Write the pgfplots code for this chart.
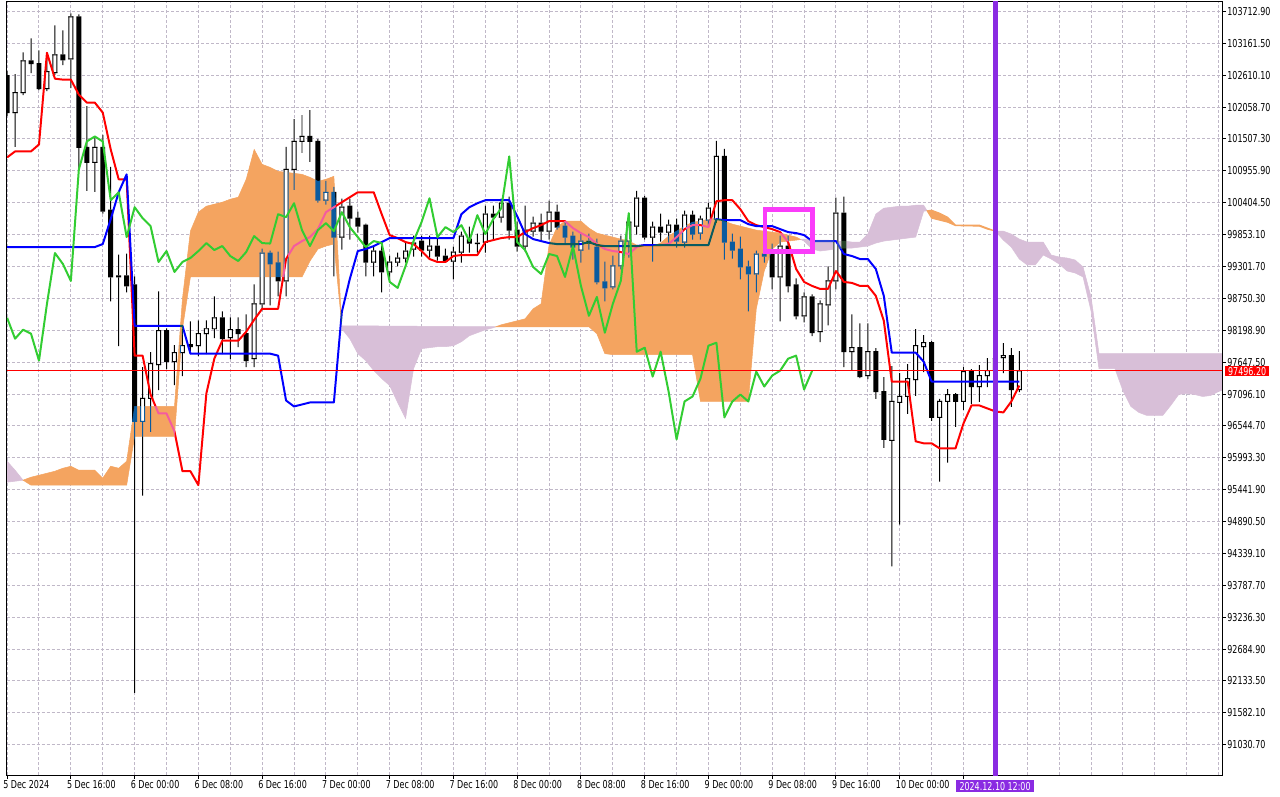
\documentclass[border=0pt]{standalone}
\usepackage{fontspec}
\setmainfont{DejaVu Sans}[FakeStretch=0.73]
\usepackage{pgfplots}
\usepackage{pgfplotstable}
\pgfplotsset{compat=1.18}
\definecolor{sandy}{RGB}{244,164,96}
\definecolor{thist}{RGB}{216,191,216}
\definecolor{invred}{RGB}{0,255,255}
\definecolor{invblue}{RGB}{255,255,0}
\definecolor{chik}{RGB}{50,205,50}
\definecolor{gridc}{RGB}{192,184,200}
\definecolor{vline}{RGB}{138,43,226}
\definecolor{boxc}{RGB}{250,60,250}
\newcommand{\tf}{\fontsize{11}{13}\selectfont}

\pgfplotstableread{
k o h l c
0 102601.5 102670.4 101912.3 101964.0
1 101964.0 102618.7 101378.2 102308.6
2 102308.6 102997.8 102274.1 102860.0
3 102860.0 103239.0 102653.2 102808.3
4 102808.3 103032.3 102360.3 102377.5
5 102377.5 102997.8 102343.1 102670.4
6 102653.2 103463.0 102618.7 102963.3
7 102963.3 103376.9 102791.0 102877.2
8 102894.4 103669.8 102394.8 103618.1
9 103618.1 103652.5 100981.9 101361.0
10 101361.0 102067.4 100620.1 101102.5
11 101102.5 101516.0 100602.8 101361.0
12 101361.0 101567.7 100223.8 100258.2
13 100275.5 101016.4 98707.5 99121.1
14 99138.3 99500.1 97932.2 99121.1
15 99138.3 99517.3 98862.6 98966.0
16 98983.2 99121.1 91936.1 96622.7
17 96622.7 97553.1 95347.7 97019.0
18 97019.0 97811.6 96450.4 97622.0
19 97604.8 98862.6 97174.1 98190.6
20 98190.6 98225.1 97535.9 97656.5
21 97656.5 97932.2 97260.2 97811.6
22 97811.6 98207.9 97415.3 97932.2
23 97949.4 98345.7 97794.3 97915.0
24 97932.2 98362.9 97759.9 98138.9
25 98138.9 98362.9 97794.3 98225.1
26 98225.1 98776.5 98070.0 98414.6
27 98414.6 98518.0 97794.3 98052.8
28 98070.0 98414.6 97708.2 98207.9
29 98207.9 98414.6 97915.0 98138.9
30 98138.9 98466.3 97570.4 97673.7
31 97708.2 98983.2 97570.4 98655.8
32 98655.8 99603.5 98552.5 99534.6
33 99534.6 99569.0 98638.6 99345.0
34 99362.3 99551.8 98793.7 99052.1
35 99052.1 101361.0 98793.7 100981.9
36 100981.9 101843.4 100637.3 101464.3
37 101464.3 101912.3 101274.8 101550.5
38 101550.5 101998.5 101119.7 101464.3
39 101464.3 101498.8 100413.3 100447.8
40 100447.8 100775.1 100378.8 100585.6
41 100585.6 100671.8 99138.3 99810.3
42 99810.3 100465.0 99603.5 100327.2
43 100344.4 100465.0 99775.8 100137.6
44 100137.6 100241.0 99896.4 99999.8
45 100017.0 100034.2 99138.3 99379.5
46 99379.5 99638.0 99138.3 99569.0
47 99569.0 99724.1 98862.6 99207.2
48 99207.2 99482.9 99052.1 99379.5
49 99379.5 99534.6 99310.6 99448.4
50 99448.4 99724.1 99379.5 99569.0
51 99603.5 99827.5 99482.9 99706.9
52 99741.3 99827.5 99482.9 99586.3
53 99586.3 99827.5 99465.7 99655.2
54 99655.2 99827.5 99414.0 99482.9
55 99482.9 99603.5 99379.5 99396.7
56 99396.7 99638.0 99086.6 99551.8
57 99551.8 99896.4 99379.5 99827.5
58 99775.8 99982.6 99551.8 99706.9
59 99706.9 99861.9 99551.8 99698.3
60 99724.1 100344.4 99551.8 100206.5
61 100206.5 100344.4 99775.8 100154.9
62 100154.9 100465.0 100068.7 100396.1
63 100396.1 100499.5 99775.8 99930.9
64 99930.9 100068.7 99569.0 99655.2
65 99655.2 100344.4 99569.0 99930.9
66 99913.6 100154.9 99827.5 100051.5
67 100051.5 100206.5 99758.6 99913.6
68 99913.6 100430.5 99775.8 100241.0
69 100241.0 100361.6 99948.1 99982.6
70 99999.8 100068.7 99689.6 99810.3
71 99827.5 99896.4 99431.2 99638.0
72 99586.3 99861.9 99379.5 99741.3
73 99741.3 99861.9 99603.5 99706.9
74 99638.0 99775.8 99000.4 99034.9
75 99034.9 99379.5 98707.5 98931.5
76 98948.8 99482.9 98914.3 99310.6
77 99310.6 99827.5 99258.9 99741.3
78 99741.3 100154.9 99465.7 100068.7
79 99999.8 100602.8 99861.9 100482.2
80 100482.2 100516.7 99775.8 99810.3
81 99810.3 100068.7 99396.7 99982.6
82 99982.6 100206.5 99741.3 99896.4
83 99896.4 100103.2 99724.1 100017.0
84 100017.0 100120.4 99638.0 99741.3
85 99724.1 100258.2 99638.0 100189.3
86 100189.3 100258.2 99775.8 99861.9
87 99879.2 100172.1 99775.8 100120.4
88 100103.2 100396.1 99982.6 100309.9
89 100120.4 101464.3 100068.7 101205.9
90 101205.9 101326.5 99431.2 99724.1
91 99724.1 99861.9 99448.4 99586.3
92 99603.5 99810.3 99086.6 99293.4
93 99293.4 99396.7 98535.2 99172.7
94 99172.7 99569.0 98862.6 99517.3
95 99517.3 99603.5 99379.5 99482.9
96 99569.0 99689.6 98914.3 99121.1
97 99121.1 99827.5 98362.9 99655.2
98 99655.2 99827.5 98862.6 98966.0
99 98983.2 99086.6 98397.4 98449.1
100 98449.1 98845.4 98345.7 98776.5
101 98776.5 98810.9 98104.5 98156.2
102 98173.4 98707.5 98001.1 98655.8
103 98638.6 99293.4 98294.0 99052.1
104 99052.1 100482.2 98914.3 100223.8
105 100223.8 100499.5 97570.4 97828.8
106 97828.8 98466.3 97518.7 97897.7
107 97897.7 98311.2 97380.8 97398.0
108 97415.3 98311.2 97363.6 97828.8
109 97828.8 97880.5 97019.0 97139.6
110 97139.6 97380.8 96174.7 96312.6
111 96295.3 97570.4 94124.4 96967.3
112 96950.1 97449.7 94848.0 97053.5
113 97053.5 97604.8 96760.5 97363.6
114 97346.4 98207.9 97070.7 97932.2
115 97915.0 98104.5 97484.2 97983.9
116 97983.9 98001.1 96639.9 96691.6
117 96691.6 97001.8 95588.9 96967.3
118 96967.3 97174.1 95916.3 97087.9
119 97087.9 97105.1 96536.6 96967.3
120 96967.3 97553.1 96829.5 97484.2
121 97484.2 97518.7 96932.8 97225.8
122 97225.8 97587.6 96967.3 97415.3
123 97415.3 97708.2 97225.8 97501.4
124 97501.4 97759.9 97329.1 97708.2
125 97725.4 97966.6 97467.0 97759.9
126 97759.9 97880.5 96881.2 97174.1
127 97174.1 97828.8 97139.6 97496.2
}\candles

\pgfplotstableread{
k t kj
0 101188.7 99638
1 101292 99638
2 101292 99638
3 101292 99638
4 101412.6 99638
5 102997.8 99638
6 102549.8 99638
7 102533.6 99638
8 102533.6 99638
9 102274.1 99638
10 102136.3 99638
11 102136.3 99638
12 101964 99689.6
13 101326.5 100120.4
14 100809.6 100585.6
15 100809.6 100895.7
16 97759.9 98276.8
17 97759.9 98276.8
18 97087.9 98276.8
19 96760.5 98276.8
20 96760.5 98276.8
21 96450.4 98276.8
22 95761.2 98276.8
23 95761.2 97794.3
24 95520 97794.3
25 97105.1 97794.3
26 97708.2 97794.3
27 98018.3 97794.3
28 98018.3 97794.3
29 98018.3 97794.3
30 98173.4 97794.3
31 98380.2 97794.3
32 98569.7 97794.3
33 98569.7 97794.3
34 98569.7 97759.9
35 99431.2 96984.5
36 99655.2 96881.2
37 99741.3 96915.6
38 99810.3 96950.1
39 99948.1 96950.1
40 100241 96950.1
41 100327.2 96950.1
42 100413.3 98518
43 100499.5 99086.6
44 100585.6 99569
45 100585.6 99603.5
46 100585.6 99655.2
47 100206.5 99724.1
48 99844.7 99793
49 99793 99793
50 99724.1 99793
51 99689.6 99793
52 99569 99793
53 99431.2 99793
54 99379.5 99793
55 99379.5 99793
56 99482.9 99793
57 99500.1 100206.5
58 99500.1 100327.2
59 99500.1 100396.1
60 99724.1 100447.8
61 99758.6 100447.8
62 99793 100447.8
63 99810.3 100447.8
64 99810.3 100172.1
65 99896.4 99861.9
66 99965.3 99775.8
67 100017 99741.3
68 100085.9 99706.9
69 100085.9 99689.6
70 100085.9 99689.6
71 99965.3 99689.6
72 99879.2 99689.6
73 99810.3 99724.1
74 99689.6 99672.4
75 99603.5 99655.2
76 99569 99655.2
77 99551.8 99655.2
78 99517.3 99655.2
79 99638 99655.2
80 99672.4 99672.4
81 99672.4 99672.4
82 99672.4 99672.4
83 99689.6 99672.4
84 99810.3 99672.4
85 99948.1 99672.4
86 100017 99672.4
87 100017 99672.4
88 99982.6 99672.4
89 100430.5 100120.4
90 100447.8 100103.2
91 100447.8 100103.2
92 100292.7 100103.2
93 100085.9 100034.2
94 100017 99999.8
95 99982.6 99999.8
96 99948.1 99999.8
97 99896.4 99948.1
98 99724.1 99896.4
99 99258.9 99879.2
100 99034.9 99844.7
101 98966 99741.3
102 98914.3 99741.3
103 98914.3 99741.3
104 99224.4 99741.3
105 99034.9 99517.3
106 99017.7 99482.9
107 98966 99431.2
108 98966 99431.2
109 98793.7 99258.9
110 98362.9 98793.7
111 97311.9 97811.6
112 97311.9 97811.6
113 97311.9 97811.6
114 96278.1 97811.6
115 96243.6 97656.5
116 96243.6 97311.9
117 96157.5 97311.9
118 96157.5 97311.9
119 96157.5 97311.9
120 96588.2 97311.9
121 96898.4 97311.9
122 96898.4 97311.9
123 96846.7 97311.9
124 96795 97311.9
125 96777.8 97311.9
126 96967.3 97311.9
127 97243 97311.9
}\ind

\pgfplotsset{
  base/.style={at={(2bp,22bp)}, anchor=south west, scale only axis,
    width=1220bp, height=776bp, scaled ticks=false,
    xmin=-0.0375, xmax=152.4625, ymin=90506.06, ymax=103876.54},
  eb/.style 2 args={draw=none, mark=none, forget plot,
    error bars/y dir=plus, error bars/y explicit, error bars/error mark=none,
    error bars/error bar style={draw=#1, line width=#2, solid}},
  yt/.style={ytick={91030.7,91582.1,92133.5,92684.9,93236.3,93787.7,94339.1,94890.5,95441.9,95993.3,96544.7,97096.1,97647.5,98198.9,98750.3,99301.7,99853.1,100404.5,100955.9,101507.3,102058.7,102610.1,103161.5,103712.9}},
}

\begin{document}
\begin{tikzpicture}
\fill[white] (0,0) rectangle (1280bp,800bp);

% ---------- layer 1: grid, knockouts, cloud, white candle bodies
\begin{axis}[base, yt,
  axis line style={draw=none},
  xtick={0,8,...,152}, minor xtick={4,12,...,148},
  xticklabels={}, yticklabels={},
  major tick length=0pt, minor tick length=0pt,
  grid=both,
  major grid style={gridc, line width=1bp, dash pattern=on 3bp off 2bp},
  minor grid style={gridc, line width=1bp, dash pattern=on 3bp off 2bp}]
% knockouts
\addplot[eb={white}{1bp}] table[x=k, y expr={\thisrow{l}-8.615}, y error expr={\thisrow{h}-\thisrow{l}+17.23}] {\candles};
\addplot[eb={white}{5bp}] table[x=k, y expr={min(\thisrow{o},\thisrow{c})-8.615}, y error expr={abs(\thisrow{c}-\thisrow{o})+17.23}] {\candles};
\addplot[white, line width=2bp, forget plot] table[x=k, y=t] {\ind};
\addplot[white, line width=2bp, forget plot] table[x=k, y=kj] {\ind};
% cloud
\addplot[fill=thist, draw=thist, line width=0.5bp, forget plot] coordinates {(-1,95985.2) (0,95933.5) (1,95778.4) (2,95606.1) (1,95588.9) (0,95571.7) (-1,95571.7)} -- cycle;
\addplot[fill=sandy, draw=sandy, line width=0.5bp, forget plot] coordinates {(2,95606.1) (3,95657.8) (4,95692.3) (5,95726.7) (6,95761.2) (7,95812.9) (8,95847.4) (9,95778.4) (10,95778.4) (11,95778.4) (12,95640.6) (13,95847.4) (14,95812.9) (15,95933.5) (16,96881.2) (21,96881.2) (22,98742) (23,99913.6) (24,100241) (25,100344.4) (26,100378.8) (27,100413.3) (28,100465) (29,100499.5) (30,100809.6) (31,101326.5) (32,101068) (33,101016.4) (34,100947.4) (35,100930.2) (36,100913) (37,100895.7) (38,100844.1) (39,100775.1) (40,100809.6) (41,100861.3) (41.96,98335.4) (41,99689.6) (40,99655.2) (39,99603.5) (38,99396.7) (37,99121.1) (23,99121.1) (22,98225.1) (21,96364.3) (16,96364.3) (15,95520) (3,95520)} -- cycle;
\addplot[fill=thist, draw=thist, line width=0.5bp, forget plot] coordinates {(41.96,98335.4) (42,98276.8) (61.33,98259.6) (61,98242.3) (60,98207.9) (59,98156.2) (58,98104.5) (57,98001.1) (56,97932.2) (55,97915) (54,97915) (53,97897.7) (52,97880.5) (51,97535.9) (50,96674.4) (49,96950.1) (48,97243) (47,97363.6) (46,97501.4) (45,97673.7) (44,97794.3) (43,98052.8) (42,98225.1)} -- cycle;
\addplot[fill=sandy, draw=sandy, line width=0.5bp, forget plot] coordinates {(61.33,98259.6) (62,98294) (63,98328.5) (64,98362.9) (65,98397.4) (66,98569.7) (67,98655.8) (68,99672.4) (69,99982.6) (70,100085.9) (71,100085.9) (72,100085.9) (73,99965.3) (74,99879.2) (75,99844.7) (76,99810.3) (77,99775.8) (78,99741.3) (79,99672.4) (80,99655.2) (81,99655.2) (82,99706.9) (83,99827.5) (84,99913.6) (85,99999.8) (86,100068.7) (87,100085.9) (88,100120.4) (89,100137.6) (90,100085.9) (91,100034.2) (92,99999.8) (93,99965.3) (94,99930.9) (95,99913.6) (96,99896.4) (97,99879.2) (98,99844.7) (99,99810.3) (99.6,99768.9) (99,99758.6) (98,99741.3) (97,99724.1) (96,99603.5) (95,99224.4) (94,98569.7) (93,96967.3) (87,96967.3) (86,97777.1) (76,97777.1) (75,97794.3) (74,98138.9) (73,98259.6) (62,98259.6)} -- cycle;
\addplot[fill=thist, draw=thist, line width=0.5bp, forget plot] coordinates {(99.6,99768.9) (100,99775.8) (101,99758.6) (103,99758.6) (104,99741.3) (105,99741.3) (106,99724.1) (107,99724.1) (108,99861.9) (109,100206.5) (110,100309.9) (111,100327.2) (112,100344.4) (113,100344.4) (114,100361.6) (115,100361.6) (115.43,100265.1) (115,100258.2) (114,99810.3) (113,99793) (112,99775.8) (111,99758.6) (110,99741.3) (109,99706.9) (108,99655.2) (107,99638) (106,99620.7) (105,99620.7) (104,99603.5) (103,99586.3) (102,99569) (101,99603.5) (100,99741.3)} -- cycle;
\addplot[fill=sandy, draw=sandy, line width=1bp, forget plot] coordinates {(115.43,100265.1) (116,100275.5) (117,100223.8) (118,100154.9) (119,100017) (122,100017) (123,99965.3) (124,99913.6) (123,99948.1) (122,99999.8) (119,100008.4) (118,100068.7) (117,100103.2) (116,100137.6)} -- cycle;
\addplot[fill=thist, draw=thist, line width=0.5bp, forget plot] coordinates {(124,99913.6) (125,99913.6) (126,99861.9) (127,99775.8) (128,99724.1) (130,99724.1) (131,99500.1) (132,99465.7) (133,99448.4) (134,99414) (135,99293.4) (136,98776.5) (137,97794.3) (154,97794.3) (154,97191.3) (153,97191.3) (152,97139.6) (151,97070.7) (150,97053.5) (149,97087.9) (148,97105.1) (147,97087.9) (146,96898.4) (145,96726.1) (143,96726.1) (142,96777.8) (141,96881.2) (140,97156.8) (139,97535.9) (137,97535.9) (136,98535.2) (135,99121.1) (134,99190) (133,99224.4) (132,99345) (131,99431.2) (130,99500.1) (129,99327.8) (128,99327.8) (127,99431.2) (126,99638) (125,99758.6)} -- cycle;
% white interiors of bullish bodies
\addplot[eb={white}{3bp}, restrict expr to domain={\thisrow{c}-\thisrow{o}}{17.3:100000}] table[x=k, y expr={\thisrow{o}+8.615}, y error expr={\thisrow{c}-\thisrow{o}-17.23}] {\candles};
\end{axis}

% ---------- layer 2: candles and lines, inverted, composited with difference
\begin{scope}[blend mode=difference]
\begin{scope}[transparency group]
\begin{axis}[base, hide axis]
\addplot[eb={white}{1bp}, restrict expr to domain={\thisrow{h}-max(\thisrow{o},\thisrow{c})}{0.5:100000}] table[x=k, y expr={max(\thisrow{o},\thisrow{c})+8.615}, y error expr={\thisrow{h}-max(\thisrow{o},\thisrow{c})}] {\candles};
\addplot[eb={white}{1bp}, restrict expr to domain={min(\thisrow{o},\thisrow{c})-\thisrow{l}}{0.5:100000}] table[x=k, y expr={\thisrow{l}-8.615}, y error expr={min(\thisrow{o},\thisrow{c})-\thisrow{l}}] {\candles};
\addplot[eb={white}{5bp}, restrict expr to domain={\thisrow{o}-\thisrow{c}}{0:100000}] table[x=k, y expr={\thisrow{c}-8.615}, y error expr={\thisrow{o}-\thisrow{c}+17.23}] {\candles};
\addplot[eb={white}{5bp}, restrict expr to domain={\thisrow{c}-\thisrow{o}}{0.05:100000}] table[x=k, y expr={\thisrow{c}-8.615}, y error expr={17.23}] {\candles};
\addplot[eb={white}{5bp}, restrict expr to domain={\thisrow{c}-\thisrow{o}}{0.05:100000}] table[x=k, y expr={\thisrow{o}-8.615}, y error expr={17.23}] {\candles};
\addplot[eb={white}{1bp}, restrict expr to domain={\thisrow{c}-\thisrow{o}}{0.05:100000}] table[x expr={\thisrow{k}-0.25}, y expr={\thisrow{o}-8.615}, y error expr={\thisrow{c}-\thisrow{o}+17.23}] {\candles};
\addplot[eb={white}{1bp}, restrict expr to domain={\thisrow{c}-\thisrow{o}}{0.05:100000}] table[x expr={\thisrow{k}+0.25}, y expr={\thisrow{o}-8.615}, y error expr={\thisrow{c}-\thisrow{o}+17.23}] {\candles};
\addplot[invred, line width=2bp, line join=round, forget plot] table[x=k, y=t] {\ind};
\addplot[invblue, line width=2bp, line join=round, forget plot] table[x=k, y=kj] {\ind};
\end{axis}
\end{scope}
\end{scope}

% ---------- layer 3: chikou, price line, marks, frame and labels
\begin{axis}[base, yt,
  axis line style={black, line width=1bp},
  xtick={0,8,...,120},
  xticklabels={5 Dec 2024,5 Dec 16:00,6 Dec 00:00,6 Dec 08:00,6 Dec 16:00,7 Dec 00:00,7 Dec 08:00,7 Dec 16:00,8 Dec 00:00,8 Dec 08:00,8 Dec 16:00,9 Dec 00:00,9 Dec 08:00,9 Dec 16:00,10 Dec 00:00,{}},
  yticklabels={91030.70,91582.10,92133.50,92684.90,93236.30,93787.70,94339.10,94890.50,95441.90,95993.30,96544.70,97096.10,97647.50,98198.90,98750.30,99301.70,99853.10,100404.50,100955.90,101507.30,102058.70,102610.10,103161.50,103712.90},
  xtick pos=bottom, ytick pos=right, yticklabel pos=right,
  tick align=outside, major tick length=4bp,
  tick style={black, line width=1bp},
  x tick label style={font=\tf, anchor=north west, inner sep=0pt, xshift=-4bp, yshift=-1bp},
  y tick label style={font=\tf, anchor=west, inner sep=0pt, xshift=1bp}]
\addplot[chik, line width=2bp, line join=round, restrict x to domain=-0.5:200] table[x expr={\thisrow{k}-26}, y=c] {\candles};
\addplot[red, line width=1bp] coordinates {(-1,97496.2) (160,97496.2)};
\addplot[boxc, line width=4.5bp, line join=miter] coordinates {(95.09,100284.1) (101.03,100284.1) (101.03,99557) (95.09,99557)} -- cycle;
\addplot[vline, line width=5bp] coordinates {(124,90000) (124,104500)};
\end{axis}

\node[fill=red, text=white, inner sep=0pt, minimum width=44bp, minimum height=10bp, font=\tf] at (1247bp,427.3bp) {97496.20};
\node[fill=vline, text=white, inner sep=0pt, minimum width=78bp, minimum height=12bp, font=\tf] at (994bp,11bp) {2024.12.10 12:00};
\end{tikzpicture}
\end{document}
